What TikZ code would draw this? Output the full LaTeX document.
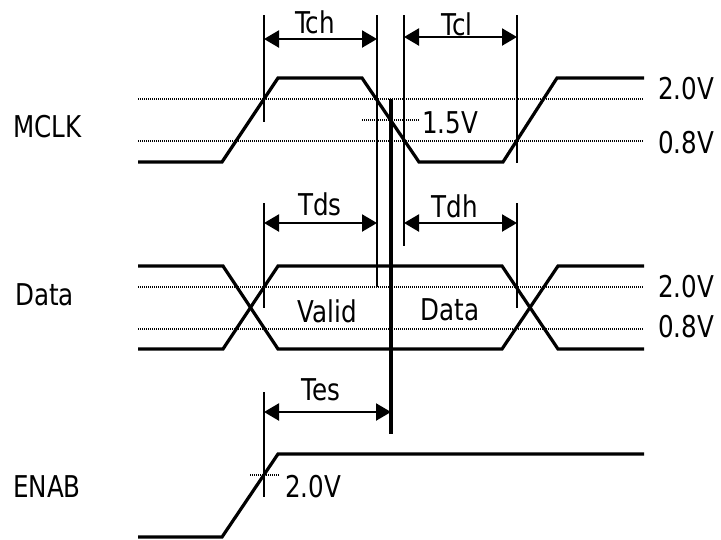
\documentclass[tikz,border=0pt]{standalone}
\usepackage{fontspec}
\setmainfont[FakeStretch=0.82]{DejaVu Sans}
\usetikzlibrary{arrows.meta}
\begin{document}
\begin{tikzpicture}[x=1pt,y=-1pt,
  sig/.style={line width=3.2pt,line join=miter},
  thresh/.style={line width=2.2pt,black,dash pattern=on 1pt off 1pt},
  marker/.style={line width=2.2pt},
  heavy/.style={line width=3.2pt},
  dim/.style={line width=2.2pt,{Triangle[length=15pt,width=17pt]}-{Triangle[length=15pt,width=17pt]}},
  lbl/.style={inner sep=0pt,font=\fontsize{30}{36}\selectfont},
  lblw/.style={lbl,anchor=base west},
  lblc/.style={lbl,anchor=base}]
\useasboundingbox (0,0) rectangle (721,539);
% threshold lines
\draw[thresh] (138,99) -- (644,99);
\draw[thresh] (138,141) -- (644,141);
\draw[thresh] (362,120) -- (420,120);
\draw[thresh] (138,287) -- (644,287);
\draw[thresh] (138,329) -- (644,329);
\draw[thresh] (250,475) -- (280,475);
% MCLK
\draw[sig] (138,162) -- (222,162) -- (278,78) -- (362,78) -- (419,162) -- (503,162) -- (557,78) -- (644,78);
% Data
\draw[sig] (138,266) -- (223,266) -- (278,349) -- (502,349) -- (558,266) -- (644,266);
\draw[sig] (138,349) -- (223,349) -- (278,266) -- (502,266) -- (558,349) -- (644,349);
% ENAB
\draw[sig] (138,537) -- (222,537) -- (278,454) -- (644,454);
% marker coordinates
\coordinate (chT) at (264,15);   \coordinate (chB) at (264,122);
\coordinate (feT) at (377,15);   \coordinate (feB) at (377,287);
\coordinate (mdT) at (391,99);   \coordinate (mdB) at (391,434);
\coordinate (clT) at (404,15);   \coordinate (clB) at (404,246);
\coordinate (reT) at (517,15);   \coordinate (reB) at (517,163);
\coordinate (dsT) at (264,203);  \coordinate (dsB) at (264,308);
\coordinate (dhT) at (517,203);  \coordinate (dhB) at (517,308);
\coordinate (esT) at (264,392);  \coordinate (esB) at (264,497);
\draw[marker] (chT) -- (chB);
\draw[marker] (feT) -- (feB);
\draw[heavy] (mdT) -- (mdB);
\draw[marker] (clT) -- (clB);
\draw[marker] (reT) -- (reB);
\draw[marker] (dsT) -- (dsB);
\draw[marker] (dhT) -- (dhB);
\draw[marker] (esT) -- (esB);
% dimension arrows
\coordinate (a1) at (264,39); \coordinate (a2) at (377,39);
\coordinate (a3) at (404,37); \coordinate (a4) at (517,37);
\coordinate (a5) at (264,223); \coordinate (a6) at (377,223);
\coordinate (a7) at (404,223); \coordinate (a8) at (517,223);
\coordinate (a9) at (264,412); \coordinate (a10) at (391,412);
\draw[dim] (a1) -- (a2);
\draw[dim] (a3) -- (a4);
\draw[dim] (a5) -- (a6);
\draw[dim] (a7) -- (a8);
\draw[dim] (a9) -- (a10);
% labels
\node[lblc] (tch) at (315,33) {Tch};
\node[lblc] (tcl) at (457,35) {Tcl};
\node[lblc] (tds) at (320,215) {Tds};
\node[lblc] (tdh) at (455,217) {Tdh};
\node[lblc] (tes) at (321,400) {Tes};
\node[lblc] (valid) at (327,322) {Valid};
\node[lblc] (datatxt) at (450,320) {Data};
\node[lblw] (v15) at (422,133) {1.5V};
\node[lblw] (m20) at (658,99) {2.0V};
\node[lblw] (m08) at (658,153) {0.8V};
\node[lblw] (d20) at (658,297) {2.0V};
\node[lblw] (d08) at (658,337) {0.8V};
\node[lblw] (e20) at (285,497) {2.0V};
\node[lblw] (mclk) at (13,137) {MCLK};
\node[lblw] (data) at (15,305) {Data};
\node[lblw] (enab) at (13,497) {ENAB};
\end{tikzpicture}
\end{document}
